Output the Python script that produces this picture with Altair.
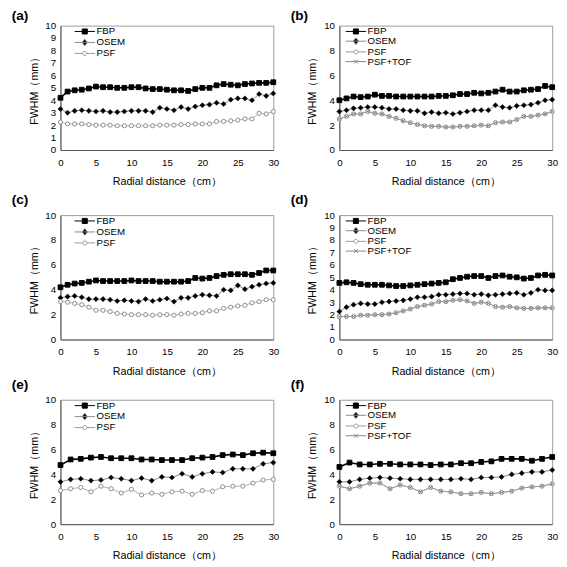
import altair as alt
import pandas as pd

FONT = "Liberation Sans"

# x positions (cm)
x31 = [0, 1, 2, 3, 4, 5, 6, 7, 8, 9, 10, 11, 12, 13, 14, 15, 16, 17, 18, 19, 20,
       21, 22, 23, 24, 25, 26, 27, 28, 29, 30]
x22 = [0, 1.43, 2.86, 4.29, 5.71, 7.14, 8.57, 10, 11.43, 12.86, 14.29, 15.71,
       17.14, 18.57, 20, 21.43, 22.86, 24.29, 25.71, 27.14, 28.57, 30]

# (a)
a_fbp = [4.2, 4.7, 4.8, 4.85, 4.95, 5.1, 5.05, 5.05, 5.0, 5.0, 5.05, 5.05, 4.95, 4.9, 4.9, 4.85,
         4.8, 4.8, 4.75, 4.9, 5.0, 5.0, 5.2, 5.3, 5.25, 5.2, 5.3, 5.35, 5.4, 5.4, 5.45]
a_osem = [3.3, 3.0, 3.15, 3.2, 3.15, 3.1, 3.15, 3.05, 3.05, 3.1, 3.15, 3.15, 3.15, 3.05, 3.4, 3.3,
          3.2, 3.45, 3.3, 3.5, 3.6, 3.65, 3.8, 3.7, 4.05, 4.15, 4.15, 4.0, 4.5, 4.35, 4.55]
a_psf = [2.25, 2.1, 2.1, 2.1, 2.05, 2.0, 2.0, 2.0, 1.95, 1.95, 1.95, 1.95, 1.95, 1.95, 2.0, 2.0,
         2.0, 2.05, 2.05, 2.1, 2.1, 2.1, 2.3, 2.3, 2.35, 2.4, 2.5, 2.5, 2.95, 2.9, 3.1]

# (b)
b_fbp = [4.0, 4.15, 4.3, 4.25, 4.3, 4.45, 4.35, 4.35, 4.3, 4.3, 4.3, 4.3, 4.3, 4.3, 4.35, 4.35,
         4.4, 4.5, 4.5, 4.6, 4.55, 4.6, 4.7, 4.85, 4.7, 4.7, 4.8, 4.85, 4.9, 5.15, 5.05]
b_osem = [3.1, 3.2, 3.35, 3.4, 3.45, 3.45, 3.4, 3.3, 3.3, 3.2, 3.15, 3.15, 2.95, 3.05, 2.95, 3.0,
          2.9, 3.0, 3.1, 3.2, 3.2, 3.2, 3.6, 3.45, 3.4, 3.55, 3.6, 3.65, 3.8, 4.0, 4.05]
b_psf = [2.5, 2.7, 2.9, 2.9, 3.1, 2.95, 2.9, 2.7, 2.55, 2.35, 2.2, 2.05, 1.95, 1.9, 1.9, 1.85,
         1.85, 1.9, 1.9, 1.95, 2.0, 1.95, 2.2, 2.25, 2.25, 2.45, 2.7, 2.7, 2.8, 2.9, 3.1]
b_tof = [2.5, 2.7, 2.9, 2.9, 3.1, 2.95, 2.9, 2.7, 2.55, 2.35, 2.2, 2.05, 1.95, 1.9, 1.9, 1.85,
         1.85, 1.9, 1.9, 1.95, 2.0, 1.95, 2.2, 2.25, 2.25, 2.45, 2.7, 2.7, 2.8, 2.9, 3.1]

# (c)
c_fbp = [4.2, 4.4, 4.5, 4.55, 4.65, 4.75, 4.7, 4.7, 4.7, 4.7, 4.75, 4.7, 4.7, 4.7, 4.65, 4.65,
         4.65, 4.65, 4.7, 4.95, 4.9, 4.95, 5.1, 5.2, 5.25, 5.25, 5.25, 5.2, 5.35, 5.55, 5.55]
c_osem = [3.35, 3.45, 3.5, 3.4, 3.25, 3.25, 3.25, 3.2, 3.1, 3.15, 3.1, 3.05, 3.25, 3.1, 3.2, 3.3,
          3.05, 3.35, 3.35, 3.5, 3.6, 3.55, 3.5, 4.0, 3.95, 4.35, 4.05, 4.25, 4.4, 4.5, 4.55]
c_psf = [3.05, 3.0, 2.9, 2.8, 2.6, 2.35, 2.35, 2.25, 2.1, 2.05, 2.0, 2.0, 2.0, 1.95, 2.0, 2.0,
         1.95, 2.05, 2.1, 2.1, 2.15, 2.3, 2.3, 2.5, 2.6, 2.7, 2.75, 2.95, 3.05, 3.2, 3.2]

# (d)
d_fbp = [4.55, 4.6, 4.55, 4.45, 4.4, 4.4, 4.4, 4.35, 4.3, 4.3, 4.35, 4.4, 4.45, 4.5, 4.55, 4.6,
         4.85, 4.95, 5.05, 5.1, 5.1, 4.95, 5.1, 5.15, 5.05, 5.0, 4.9, 4.95, 5.15, 5.2, 5.15]
d_osem = [2.25, 2.6, 2.8, 2.9, 2.85, 2.85, 3.0, 3.05, 3.1, 3.15, 3.25, 3.4, 3.4, 3.45, 3.6, 3.6,
          3.65, 3.7, 3.7, 3.6, 3.65, 3.55, 3.6, 3.65, 3.7, 3.75, 3.6, 3.75, 4.0, 3.95, 3.95]
d_psf = [1.85, 1.85, 1.85, 1.95, 1.95, 2.0, 2.0, 2.05, 2.15, 2.3, 2.45, 2.65, 2.75, 2.85, 3.05, 3.05,
         3.15, 3.2, 3.1, 2.9, 3.0, 2.9, 2.65, 2.6, 2.65, 2.55, 2.5, 2.5, 2.55, 2.55, 2.55]
d_tof = [1.85, 1.85, 1.85, 1.95, 1.95, 2.0, 2.0, 2.05, 2.15, 2.3, 2.45, 2.65, 2.75, 2.85, 3.05, 3.05,
         3.15, 3.2, 3.1, 2.9, 3.0, 2.9, 2.65, 2.6, 2.65, 2.55, 2.5, 2.5, 2.55, 2.55, 2.55]

# (e)
e_fbp = [4.75, 5.2, 5.25, 5.35, 5.4, 5.3, 5.3, 5.3, 5.2, 5.2, 5.15, 5.15, 5.15, 5.3, 5.35, 5.4,
         5.55, 5.6, 5.55, 5.7, 5.75, 5.7]
e_osem = [3.4, 3.6, 3.65, 3.5, 3.55, 3.75, 3.65, 3.5, 3.7, 3.5, 3.8, 3.75, 4.05, 3.8, 4.05, 4.2,
          4.15, 4.45, 4.45, 4.45, 4.85, 4.95]
e_psf = [2.7, 2.85, 2.95, 2.6, 3.05, 2.85, 2.5, 2.8, 2.35, 2.5, 2.4, 2.6, 2.65, 2.4, 2.7, 2.65,
         3.0, 3.05, 3.05, 3.3, 3.55, 3.6]

# (f)
f_fbp = [4.6, 4.95, 4.8, 4.8, 4.85, 4.85, 4.8, 4.8, 4.8, 4.75, 4.8, 4.8, 4.9, 4.9, 5.0, 5.05,
         5.25, 5.25, 5.25, 5.1, 5.25, 5.4]
f_osem = [3.4, 3.4, 3.6, 3.7, 3.75, 3.7, 3.65, 3.6, 3.6, 3.6, 3.6, 3.6, 3.65, 3.6, 3.75, 3.75,
          3.8, 4.0, 4.1, 4.2, 4.2, 4.35]
f_psf = [3.05, 2.85, 3.05, 3.3, 3.3, 2.85, 3.15, 2.95, 2.6, 2.95, 2.65, 2.6, 2.45, 2.45, 2.55, 2.45,
         2.55, 2.65, 2.9, 3.0, 3.05, 3.25]
f_tof = [3.05, 2.85, 3.05, 3.3, 3.3, 2.85, 3.15, 2.95, 2.6, 2.95, 2.65, 2.6, 2.45, 2.45, 2.55, 2.45,
         2.55, 2.65, 2.9, 3.0, 3.05, 3.25]

x_ticks = [0, 5, 10, 15, 20, 25, 30]

STYLE = {
    "FBP": dict(line="#000000", lw=1.6, shape="square", size=24, fill="#000000", stroke="#000000", sw=1),
    "OSEM": dict(line="#8a8a8a", lw=1, shape="diamond", size=28, fill="#000000", stroke="#000000", sw=0.5),
    "PSF": dict(line="#b0b0b0", lw=1, shape="circle", size=18, fill="#ffffff", stroke="#8a8a8a", sw=1),
    "PSF+TOF": dict(line="#9a9a9a", lw=1, shape="M-1,-1L1,1M-1,1L1,-1", size=10, fill="transparent",
                    stroke="#777777", sw=0.8),
}

# legend symbols: a line segment with the series marker on it
LEG_PATH = {
    "FBP": "M-4.375,0L0.875,0M-2.4,-0.65L-1.1,-0.65L-1.1,0.65L-2.4,0.65Z",
    "OSEM": "M-4.375,0L0.875,0M-1.75,-0.85L-1.05,0L-1.75,0.85L-2.45,0Z",
    "PSF": ("M-4.375,0L-2.3,0M-1.2,0L0.875,0"
            "M-1.242,0.21L-1.54,0.508L-1.96,0.508L-2.258,0.21L-2.258,-0.21L-1.96,-0.508"
            "L-1.54,-0.508L-1.242,-0.21Z"),
    "PSF+TOF": "M-4.375,0L0.875,0M-2.25,-0.5L-1.25,0.5M-2.25,0.5L-1.25,-0.5",
}
LEG_FILL = {"FBP": "#000000", "OSEM": "#000000", "PSF": "#ffffff", "PSF+TOF": "transparent"}
LEG_STROKE = {"FBP": "#000000", "OSEM": "#8a8a8a", "PSF": "#999999", "PSF+TOF": "#888888"}

W, H = 219, 128


def panel(label, xs, series, ystep, title_offset):
    names = list(series.keys())
    four = len(names) == 4
    rows = []
    for name in names:
        for xv, yv in zip(xs, series[name]):
            rows.append({"r": xv, "fwhm": yv, "method": name})
    df = pd.DataFrame(rows)
    base = alt.Chart(df).encode(
        x=alt.X("r:Q", scale=alt.Scale(domain=[0, 30], nice=False),
                axis=alt.Axis(values=x_ticks, title="Radial distance（cm）", format="d", labelFlush=False)),
        y=alt.Y("fwhm:Q", scale=alt.Scale(domain=[0, 10], nice=False),
                axis=alt.Axis(values=list(range(0, 11, ystep)), title="FWHM（mm）", format="d",
                              labelFlush=False)),
    )
    layers = []
    for name in names:
        st = STYLE[name]
        layers.append(
            base.transform_filter(alt.datum.method == name).mark_line(
                color=st["line"], strokeWidth=st["lw"],
                point=alt.OverlayMarkDef(shape=st["shape"], size=st["size"], filled=True,
                                         fill=st["fill"], stroke=st["stroke"],
                                         strokeWidth=st["sw"], opacity=1),
            )
        )
    leg = alt.Chart(df).mark_point(opacity=0, filled=False).encode(
        shape=alt.Shape("method:N", sort=names,
                        scale=alt.Scale(domain=names, range=[LEG_PATH[n] for n in names]),
                        legend=alt.Legend(title=None, orient="none",
                                          legendX=19 if four else 27, legendY=1,
                                          symbolSize=64, symbolStrokeWidth=1, labelFontSize=10,
                                          labelFont=FONT, labelColor="#000", labelOffset=0,
                                          rowPadding=-2 if four else 0.3, padding=0,
                                          symbolOpacity=1)),
        fill=alt.Fill("method:N", sort=names, legend=None,
                      scale=alt.Scale(domain=names, range=[LEG_FILL[n] for n in names])),
        stroke=alt.Stroke("method:N", sort=names, legend=None,
                          scale=alt.Scale(domain=names, range=[LEG_STROKE[n] for n in names])),
    )
    return alt.layer(*layers, leg).properties(
        width=W, height=H,
        title=alt.TitleParams(label, anchor="start", fontSize=14, fontWeight="bold", font=FONT,
                              color="#000", dx=-17, offset=title_offset),
    )


pa = panel("(a)", x31, {"FBP": a_fbp, "OSEM": a_osem, "PSF": a_psf}, 1, -2)
pb = panel("(b)", x31, {"FBP": b_fbp, "OSEM": b_osem, "PSF": b_psf, "PSF+TOF": b_tof}, 2, -2)
pc = panel("(c)", x31, {"FBP": c_fbp, "OSEM": c_osem, "PSF": c_psf}, 2, 3)
pd_ = panel("(d)", x31, {"FBP": d_fbp, "OSEM": d_osem, "PSF": d_psf, "PSF+TOF": d_tof}, 1, 3)
pe = panel("(e)", x22, {"FBP": e_fbp, "OSEM": e_osem, "PSF": e_psf}, 2, 3)
pf = panel("(f)", x22, {"FBP": f_fbp, "OSEM": f_osem, "PSF": f_psf, "PSF+TOF": f_tof}, 2, 3)

IND = dict(shape="independent", fill="independent", stroke="independent")


def row(l, r):
    return alt.hconcat(l, r, spacing=10).resolve_scale(**IND).resolve_legend(**IND)


lower = alt.vconcat(row(pc, pd_), row(pe, pf), spacing=1).resolve_scale(**IND).resolve_legend(**IND)

chart = alt.vconcat(
    row(pa, pb), lower, spacing=6,
).properties(padding={"left": 3, "top": -8, "right": 0, "bottom": 0}).resolve_scale(**IND).resolve_legend(
    **IND
).configure(font=FONT).configure_view(stroke="#9a9a9a", strokeWidth=1).configure_axis(
    domainColor="#555555", domainWidth=1, ticks=False, grid=False, labelFont=FONT, labelFontSize=10,
    labelColor="#000", labelPadding=5, titleFont=FONT, titleFontSize=11, titleFontWeight="normal",
    titleColor="#000", titlePadding=6,
).configure_axisX(labelPadding=7.5, titlePadding=9)

chart.save("out.html", embed_options={"renderer": "svg", "actions": False})
